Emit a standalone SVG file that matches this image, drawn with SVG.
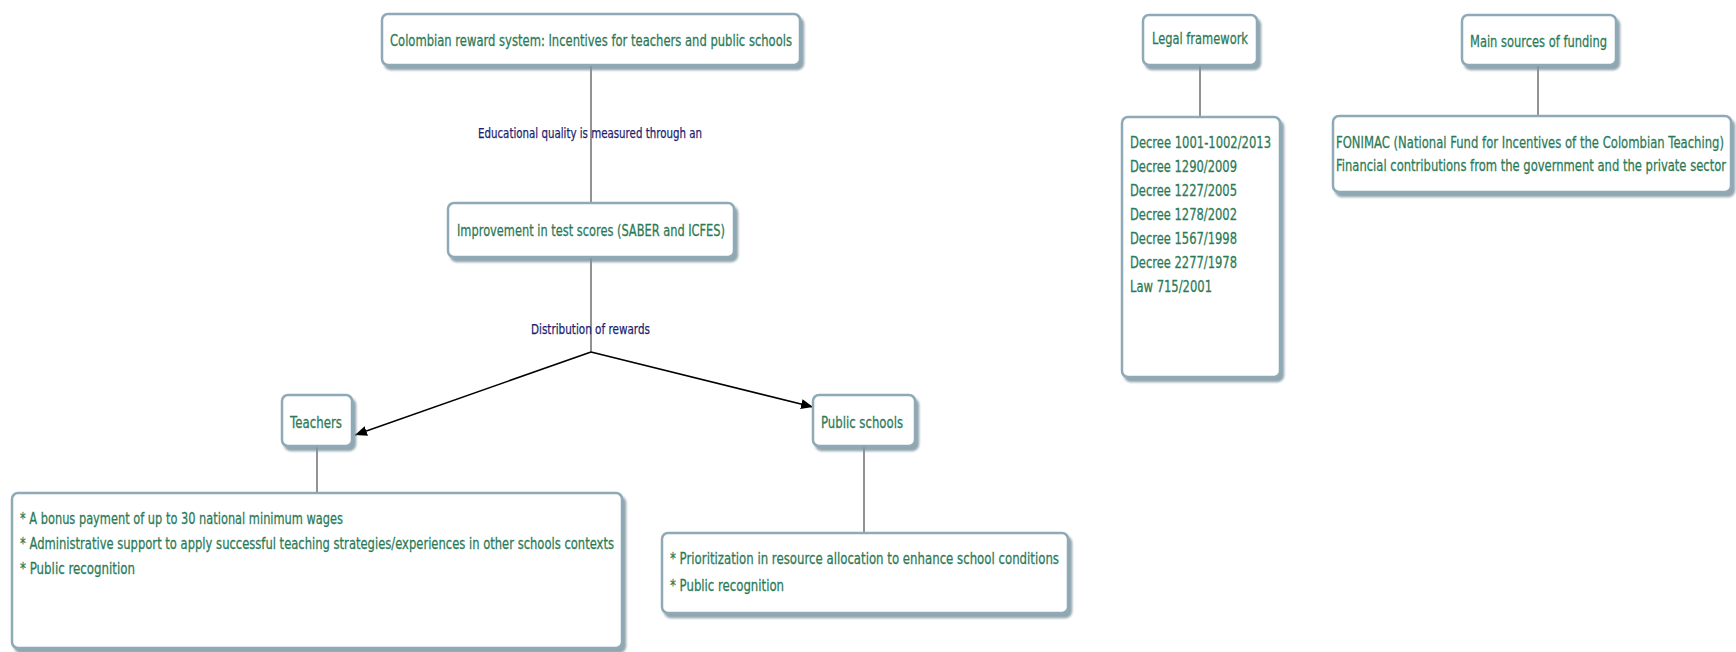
<svg xmlns="http://www.w3.org/2000/svg" width="1736" height="652" viewBox="0 0 1736 652">
  <defs>
    <filter id="shadow" x="-5%" y="-10%" width="115%" height="130%">
      <feDropShadow dx="3" dy="4" stdDeviation="1.2" flood-color="#7f95a1" flood-opacity="0.85"/>
    </filter>
    <marker id="arrow" viewBox="0 0 12 10" refX="12" refY="5" markerWidth="12" markerHeight="10" markerUnits="userSpaceOnUse" orient="auto">
      <path d="M0,0 L12,5 L0,10 Z" fill="#000"/>
    </marker>
  </defs>
  <style>
    .box { fill: #ffffff; stroke: #8eaab6; stroke-width: 2.5; filter: url(#shadow); }
    .txt { font-family: "DejaVu Sans", "Liberation Sans", sans-serif; font-size: 16.5px; fill: #2b7a57; stroke: #2b7a57; stroke-width: 0.3; }
    .lbl { font-family: "DejaVu Sans", "Liberation Sans", sans-serif; font-size: 14px; fill: #1e1e6e; stroke: #1e1e6e; stroke-width: 0.25; }
    .link { stroke: #6e6e6e; stroke-width: 1.5; fill: none; }
    .arrow { stroke: #000; stroke-width: 1.6; fill: none; marker-end: url(#arrow); }
  </style>

  <rect width="1736" height="652" fill="#ffffff"/>

  <!-- connectors and their labels -->
  <g id="connectors">
    <line class="link" x1="591" y1="66" x2="591" y2="203"/>
    <line class="link" x1="591" y1="257" x2="591" y2="352"/>
    <line class="arrow" x1="591" y1="352" x2="355" y2="435"/>
    <line class="arrow" x1="591" y1="352" x2="813" y2="407"/>
    <line class="link" x1="317" y1="446" x2="317" y2="493"/>
    <line class="link" x1="864" y1="446" x2="864" y2="533"/>
    <line class="link" x1="1200" y1="65" x2="1200" y2="117"/>
    <line class="link" x1="1538" y1="65" x2="1538" y2="116"/>
    <text class="lbl" x="478" y="138" textLength="224" lengthAdjust="spacingAndGlyphs">Educational quality is measured through an</text>
    <text class="lbl" x="531" y="334" textLength="119" lengthAdjust="spacingAndGlyphs">Distribution of rewards</text>
  </g>

  <!-- root node -->
  <g id="node-root">
    <rect class="box" x="382" y="14" width="418" height="51" rx="6"/>
    <text class="txt" x="390" y="46" textLength="402" lengthAdjust="spacingAndGlyphs">Colombian reward system: Incentives for teachers and public schools</text>
  </g>

  <g id="node-scores">
    <rect class="box" x="448" y="203" width="286" height="54" rx="6"/>
    <text class="txt" x="457" y="236" textLength="268" lengthAdjust="spacingAndGlyphs">Improvement in test scores (SABER and ICFES)</text>
  </g>

  <g id="node-teachers">
    <rect class="box" x="282" y="395" width="70" height="51" rx="6"/>
    <text class="txt" x="290" y="428" textLength="52" lengthAdjust="spacingAndGlyphs">Teachers</text>
  </g>

  <g id="node-schools">
    <rect class="box" x="813" y="395" width="102" height="51" rx="6"/>
    <text class="txt" x="821" y="428" textLength="82" lengthAdjust="spacingAndGlyphs">Public schools</text>
  </g>

  <g id="node-teacher-incentives">
    <rect class="box" x="12" y="493" width="610" height="155" rx="6"/>
    <text class="txt" x="20" y="524" textLength="323" lengthAdjust="spacingAndGlyphs">* A bonus payment of up to 30 national minimum wages</text>
    <text class="txt" x="20" y="549" textLength="594" lengthAdjust="spacingAndGlyphs">* Administrative support to apply successful teaching strategies/experiences in other schools contexts</text>
    <text class="txt" x="20" y="574" textLength="115" lengthAdjust="spacingAndGlyphs">* Public recognition</text>
  </g>

  <g id="node-school-incentives">
    <rect class="box" x="662" y="533" width="406" height="80" rx="6"/>
    <text class="txt" x="670" y="564" textLength="389" lengthAdjust="spacingAndGlyphs">* Prioritization in resource allocation to enhance school conditions</text>
    <text class="txt" x="670" y="591" textLength="114" lengthAdjust="spacingAndGlyphs">* Public recognition</text>
  </g>

  <g id="node-legal">
    <rect class="box" x="1143" y="15" width="114" height="50" rx="6"/>
    <text class="txt" x="1152" y="44" textLength="96" lengthAdjust="spacingAndGlyphs">Legal framework</text>
  </g>

  <g id="node-legal-list">
    <rect class="box" x="1122" y="117" width="158" height="260" rx="6"/>
    <text class="txt" x="1130" y="148" textLength="141" lengthAdjust="spacingAndGlyphs">Decree 1001-1002/2013</text>
    <text class="txt" x="1130" y="172" textLength="107" lengthAdjust="spacingAndGlyphs">Decree 1290/2009</text>
    <text class="txt" x="1130" y="196" textLength="107" lengthAdjust="spacingAndGlyphs">Decree 1227/2005</text>
    <text class="txt" x="1130" y="220" textLength="107" lengthAdjust="spacingAndGlyphs">Decree 1278/2002</text>
    <text class="txt" x="1130" y="244" textLength="107" lengthAdjust="spacingAndGlyphs">Decree 1567/1998</text>
    <text class="txt" x="1130" y="268" textLength="107" lengthAdjust="spacingAndGlyphs">Decree 2277/1978</text>
    <text class="txt" x="1130" y="292" textLength="82" lengthAdjust="spacingAndGlyphs">Law 715/2001</text>
  </g>

  <g id="node-funding">
    <rect class="box" x="1462" y="15" width="154" height="50" rx="6"/>
    <text class="txt" x="1470" y="47" textLength="137" lengthAdjust="spacingAndGlyphs">Main sources of funding</text>
  </g>

  <g id="node-funding-list">
    <rect class="box" x="1333" y="116" width="398" height="76" rx="6"/>
    <text class="txt" x="1336" y="148" textLength="388" lengthAdjust="spacingAndGlyphs">FONIMAC (National Fund for Incentives of the Colombian Teaching)</text>
    <text class="txt" x="1336" y="171" textLength="390" lengthAdjust="spacingAndGlyphs">Financial contributions from the government and the private sector</text>
  </g>
</svg>
